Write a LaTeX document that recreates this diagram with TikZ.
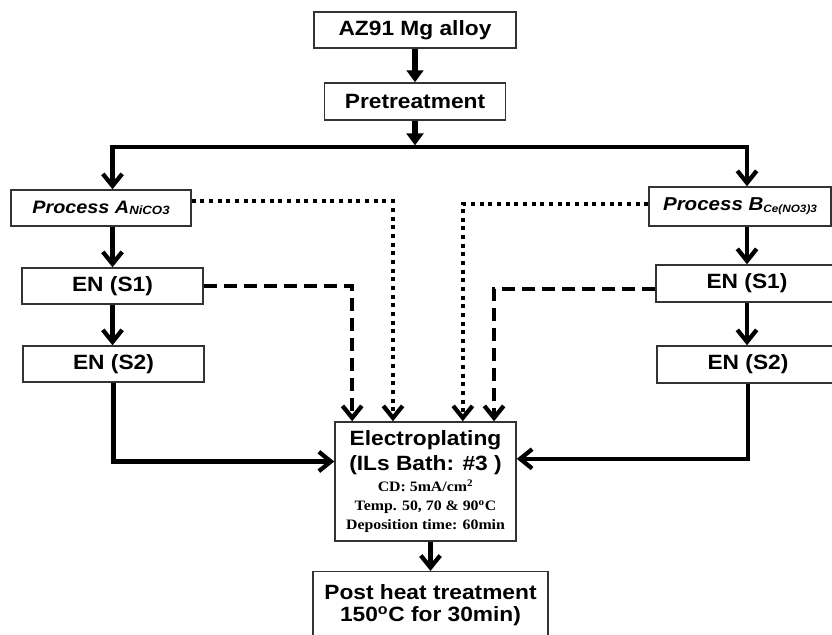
\documentclass[tikz,border=0pt]{standalone}
\usepackage{fontspec}
\setmainfont{Liberation Sans}[FakeStretch=1.1]
\newfontfamily\serifbold{Liberation Serif}[FakeStretch=1.1]
\usetikzlibrary{arrows.meta}
\begin{document}
\begin{tikzpicture}[x=0.75pt,y=-0.75pt,
  box/.style={draw=black!80, line width=1.1pt, fill=white, inner sep=0pt,
    font={\bfseries\fontsize{15.5pt}{16.5pt}\selectfont}},
  barb/.tip={Straight Barb[length=9pt,width=14.5pt]},
  conn/.style={line width=3.2pt, -barb},
  fat/.style={line width=4.5pt, -{Triangle[length=9pt,width=12.5pt]}},
  dotline/.style={line width=3.2pt, dash pattern=on 3pt off 3.5pt, -barb},
  dashline/.style={line width=3.2pt, dash pattern=on 10pt off 5pt, -barb}]
\useasboundingbox (0,0) rectangle (832,635);

\node[box, minimum width=151.5pt, minimum height=27pt] (az) at (415,30) {AZ91 Mg alloy};
\node[box, minimum width=135.75pt, minimum height=27.75pt] (pre) at (415,101.5) {Pretreatment};
\node[box, minimum width=135pt, minimum height=27pt] (pa) at (101,208)
  {\fontsize{13.5pt}{14pt}\selectfont\itshape Process A\raisebox{-1pt}{\fontsize{9pt}{9pt}\selectfont NiCO3}};
\node[box, minimum width=136.5pt, minimum height=29.25pt] (pb) at (740,206.5)
  {\fontsize{14pt}{14pt}\selectfont\itshape Process B\raisebox{-1.5pt}{\fontsize{8pt}{8pt}\selectfont Ce(NO3)3}};
\node[box, minimum width=135.75pt, minimum height=27pt] (a1) at (112.5,286) {EN (S1)};
\node[box, minimum width=136.5pt, minimum height=27.75pt] (b1) at (747,283.5) {EN (S1)};
\node[box, minimum width=135.75pt, minimum height=27pt] (a2) at (113.5,364) {EN (S2)};
\node[box, minimum width=136.5pt, minimum height=27.75pt] (b2) at (748,364.5) {EN (S2)};
\node[box, minimum width=135.75pt, minimum height=89.25pt, align=center,
  font={\bfseries\fontsize{15.5pt}{14.25pt}\selectfont\lineskiplimit=-100pt}] (ep) at (425.5,481.5)
  {Electroplating\\[4.5pt](ILs Bath: \#3 )\\[1.5pt]
   {\serifbold\fontsize{10.8pt}{14.25pt}\selectfont CD: 5mA/cm\textsuperscript{2}}\\
   {\serifbold\fontsize{10.8pt}{14.25pt}\selectfont Temp. 50, 70 \& 90\textsuperscript{o}C}\\
   {\serifbold\fontsize{10.8pt}{14.25pt}\selectfont Deposition time: 60min}};
\node[box, minimum width=176.25pt, minimum height=50pt, align=center] (ph) at (430.5,605)
  {Post heat treatment\\150\textsuperscript{o}C for 30min)};

\coordinate (split) at (415,147);

\draw[fat] (az) -- (pre);
\draw[fat] (pre.south) -- ([yshift=1.2pt]split);
\draw[line width=3.2pt, barb-barb] (a1.north |- pa.north) -- (a1.north |- split)
  -- (b1.north |- split) -- (b1.north |- pb.north);

\draw[conn] (a1.north |- pa.south) -- (a1.north);
\draw[conn] (a1.south) -- (a1.south |- a2.north);
\draw[conn] (b1.north |- pb.south) -- (b1.north);
\draw[conn] (b1.south) -- (b1.south |- b2.north);

\draw[dotline] ([yshift=5pt]pa.east) -| ([xshift=-24.4pt]ep.north);
\draw[dashline] (a1.east) -| ([xshift=-55pt]ep.north);
\draw[dotline] ([yshift=2pt]pb.west) -| ([xshift=28pt]ep.north);
\draw[dashline] ([yshift=-4pt]b1.west) -| ([xshift=51.4pt]ep.north);

\draw[conn] (a2.south) |- ([yshift=15pt]ep.west);
\draw[conn] (b2.south) |- ([yshift=17pt]ep.east);
\draw[conn] (ph.north |- ep.south) -- (ph.north);
\end{tikzpicture}
\end{document}
